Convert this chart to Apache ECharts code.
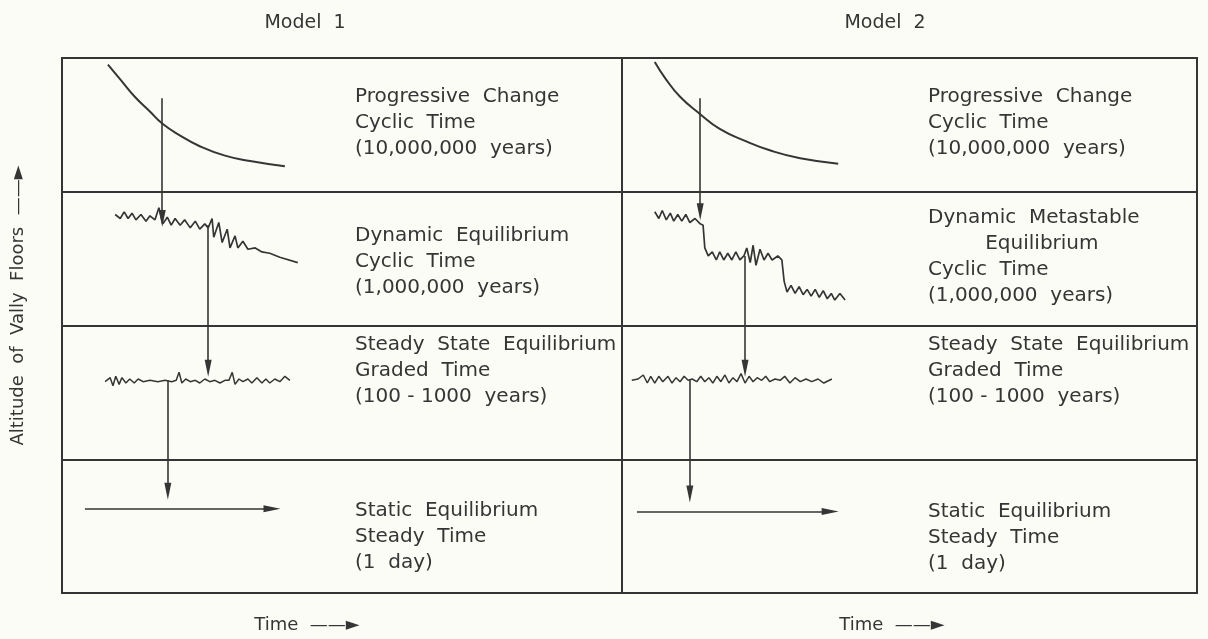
<!DOCTYPE html>
<html>
<head>
<meta charset="utf-8">
<title>Model 1 / Model 2</title>
<script src="https://cdn.jsdelivr.net/npm/echarts@6/dist/echarts.min.js"></script>
<style>
html, body { margin: 0; padding: 0; background: #fcfcf7; }
#chart { width: 1208px; height: 639px; }
</style>
</head>
<body>
<div id="chart"></div>
<script>
// x = time (0..100 across one column), y = altitude level (one unit per row, top row is 3..4)
var models = ['Model  1', 'Model  2'];

var m1Progressive = [[8.2,3.95],[10.4,3.84],[13.0,3.71],[15.7,3.60],[17.9,3.51],[21.1,3.42],[24.6,3.34],[29.1,3.27],[33.6,3.23],[39.8,3.19]];
var m1Dynamic = [[9.5,2.83],[10.4,2.80],[11.1,2.85],[11.8,2.80],[12.5,2.84],[13.2,2.79],[14.1,2.83],[15.0,2.78],[15.7,2.82],[16.6,2.79],
  [17.3,2.88],[18.0,2.76],[18.8,2.81],[19.5,2.75],[20.2,2.80],[21.1,2.75],[21.9,2.79],[22.9,2.73],[23.8,2.78],[24.6,2.72],
  [25.5,2.76],[26.1,2.73],[26.8,2.80],[27.1,2.66],[28.0,2.77],[28.6,2.62],[29.5,2.72],[30.0,2.58],[30.9,2.67],[31.4,2.58],
  [32.3,2.63],[33.2,2.57],[34.5,2.58],[35.7,2.55],[37.1,2.54],[38.9,2.51],[42.1,2.47]];
var m1Steady = [[7.7,1.58],[8.6,1.61],[9.1,1.55],[9.6,1.62],[10.2,1.56],[10.7,1.61],[11.4,1.57],[12.1,1.60],[12.9,1.57],[13.6,1.60],
  [14.5,1.58],[15.7,1.59],[17.1,1.58],[18.4,1.59],[19.6,1.58],[20.4,1.59],[20.9,1.65],[21.4,1.57],[22.1,1.60],[22.9,1.58],
  [23.8,1.59],[24.6,1.57],[25.5,1.60],[26.4,1.58],[27.3,1.59],[28.2,1.57],[29.1,1.59],[29.8,1.59],[30.4,1.65],[30.9,1.56],
  [31.6,1.60],[32.3,1.58],[33.2,1.60],[33.9,1.57],[34.8,1.61],[35.7,1.57],[36.4,1.60],[37.1,1.57],[38.0,1.60],[38.9,1.58],
  [39.8,1.62],[40.7,1.59]];
var m1Static = [[4.1,0.63],[37.5,0.63]];
var m1Arrows = [[[17.9,3.70],[17.9,2.80]], [[26.1,2.75],[26.1,1.68]], [[18.9,1.59],[18.9,0.76]]];

var m2Progressive = [[5.7,3.97],[7.5,3.85],[10.1,3.71],[13.6,3.58],[17.0,3.47],[21.4,3.38],[25.7,3.31],[31.0,3.25],[37.6,3.21]];
var m2Dynamic = [[5.7,2.85],[6.4,2.80],[7.0,2.86],[7.7,2.79],[8.4,2.84],[9.0,2.78],[9.7,2.83],[10.4,2.78],[11.1,2.83],[11.8,2.77],
  [12.7,2.80],[13.6,2.76],[14.1,2.75],[14.4,2.58],[15.0,2.52],[15.7,2.55],[16.4,2.49],[17.0,2.55],[17.7,2.49],[18.4,2.54],
  [19.1,2.49],[19.8,2.55],[20.5,2.49],[21.2,2.52],[21.7,2.58],[22.3,2.47],[22.8,2.60],[23.3,2.45],[24.0,2.57],[24.7,2.49],
  [25.4,2.54],[26.1,2.49],[27.1,2.52],[27.8,2.49],[28.2,2.33],[28.7,2.25],[29.4,2.30],[30.1,2.24],[30.8,2.29],[31.5,2.23],
  [32.2,2.27],[32.9,2.22],[33.6,2.27],[34.3,2.21],[35.0,2.26],[35.7,2.20],[36.4,2.24],[37.0,2.19],[37.9,2.24],[38.8,2.19]];
var m2Steady = [[1.7,1.59],[2.8,1.60],[3.7,1.63],[4.4,1.57],[5.0,1.62],[5.7,1.57],[6.4,1.62],[7.1,1.58],[8.0,1.62],[8.7,1.57],
  [9.4,1.61],[10.1,1.58],[10.8,1.62],[11.5,1.59],[12.2,1.60],[13.0,1.58],[13.7,1.62],[14.4,1.58],[15.1,1.61],[15.8,1.57],
  [16.5,1.62],[17.2,1.58],[17.9,1.63],[18.6,1.57],[19.3,1.61],[20.0,1.58],[20.7,1.64],[21.4,1.57],[22.1,1.62],[22.8,1.58],
  [23.5,1.61],[24.3,1.59],[25.0,1.62],[25.7,1.58],[26.6,1.60],[27.5,1.59],[28.3,1.62],[29.2,1.57],[30.1,1.61],[31.0,1.58],
  [32.0,1.60],[33.0,1.58],[34.1,1.60],[35.1,1.57],[36.5,1.60]];
var m2Static = [[2.6,0.61],[36.2,0.61]];
var m2Arrows = [[[13.6,3.70],[13.6,2.85]], [[21.4,2.52],[21.4,1.68]], [[11.8,1.60],[11.8,0.74]]];

var m1Texts = [
  ['Progressive  Change', 'Cyclic  Time', '(10,000,000  years)'],
  ['Dynamic  Equilibrium', 'Cyclic  Time', '(1,000,000  years)'],
  ['Steady  State  Equilibrium', 'Graded  Time', '(100 - 1000  years)'],
  ['Static  Equilibrium', 'Steady  Time', '(1  day)']
];
var m2Texts = [
  ['Progressive  Change', 'Cyclic  Time', '(10,000,000  years)'],
  ['Dynamic  Metastable', '         Equilibrium', 'Cyclic  Time', '(1,000,000  years)'],
  ['Steady  State  Equilibrium', 'Graded  Time', '(100 - 1000  years)'],
  ['Static  Equilibrium', 'Steady  Time', '(1  day)']
];

var ink = '#353535';
var font = 'DejaVu Sans';

var myChart = echarts.init(document.getElementById('chart'));

function arrowLines(list, extra) {
  var data = list.map(function (a) {
    return [{ coord: a[0] }, { coord: a[1] }];
  });
  data.push([{ coord: extra[0] }, { coord: extra[1] }]);
  return {
    silent: true,
    animation: false,
    symbol: ['none', 'triangle'],
    symbolSize: [7, 17],
    label: { show: false },
    lineStyle: { color: ink, width: 1.6, type: 'solid' },
    itemStyle: { color: '#777', borderColor: ink, borderWidth: 1 },
    data: data
  };
}

function panelSeries(idx, prog, dyn, steady, arrows, stat) {
  var base = { type: 'line', xAxisIndex: idx, yAxisIndex: idx, showSymbol: false, silent: true, animation: false };
  return [
    Object.assign({}, base, { data: prog, smooth: true, lineStyle: { color: ink, width: 2 } }),
    Object.assign({}, base, { data: dyn, lineStyle: { color: ink, width: 1.7 } }),
    Object.assign({}, base, { data: steady, lineStyle: { color: ink, width: 1.5 }, markLine: arrowLines(arrows, stat) })
  ];
}

function textBlocks(texts, left, tops) {
  return texts.map(function (lines, i) {
    return {
      type: 'text', left: left, top: tops[i], silent: true,
      style: { text: lines.join('\n'), fill: ink, font: '20px "' + font + '"', lineHeight: 26 }
    };
  });
}

var axisOff = { axisLine: { show: false }, axisTick: { show: false }, axisLabel: { show: false } };

var option = {
  backgroundColor: '#fcfcf7',
  animation: false,
  textStyle: { fontFamily: font, color: ink },
  grid: [
    { left: 62, top: 58, width: 560, height: 542, show: true, borderColor: ink, borderWidth: 2 },
    { left: 622, top: 58, width: 575, height: 542, show: true, borderColor: ink, borderWidth: 2 }
  ],
  xAxis: [
    Object.assign({ gridIndex: 0, type: 'value', min: 0, max: 100, splitLine: { show: false },
      name: 'Time  ——►', nameLocation: 'middle', nameGap: 23,
      nameTextStyle: { fontSize: 18, color: ink, padding: [0, 70, 0, 0] } }, axisOff),
    Object.assign({ gridIndex: 1, type: 'value', min: 0, max: 100, splitLine: { show: false },
      name: 'Time  ——►', nameLocation: 'middle', nameGap: 23,
      nameTextStyle: { fontSize: 18, color: ink, padding: [0, 35, 0, 0] } }, axisOff)
  ],
  yAxis: [
    Object.assign({ gridIndex: 0, type: 'value', min: 0, max: 4, interval: 1,
      splitLine: { show: true, lineStyle: { color: ink, width: 2 } },
      name: 'Altitude  of  Vally  Floors  ——►', nameLocation: 'middle', nameRotate: 90, nameGap: 35,
      nameTextStyle: { fontSize: 18, color: ink, padding: [0, 0, 0, 40] } }, axisOff),
    Object.assign({ gridIndex: 1, type: 'value', min: 0, max: 4, interval: 1,
      splitLine: { show: true, lineStyle: { color: ink, width: 2 } } }, axisOff)
  ],
  title: [
    { text: models[0], left: 300, top: 9, textAlign: 'center', textStyle: { fontSize: 19, fontWeight: 'normal', color: ink, fontFamily: font } },
    { text: models[1], left: 880, top: 9, textAlign: 'center', textStyle: { fontSize: 19, fontWeight: 'normal', color: ink, fontFamily: font } }
  ],
  graphic: textBlocks(m1Texts, 355, [84, 223, 332, 498]).concat(textBlocks(m2Texts, 928, [84, 205, 332, 499])),
  series: panelSeries(0, m1Progressive, m1Dynamic, m1Steady, m1Arrows, m1Static)
    .concat(panelSeries(1, m2Progressive, m2Dynamic, m2Steady, m2Arrows, m2Static))
};

myChart.setOption(option);
</script>
</body>
</html>
